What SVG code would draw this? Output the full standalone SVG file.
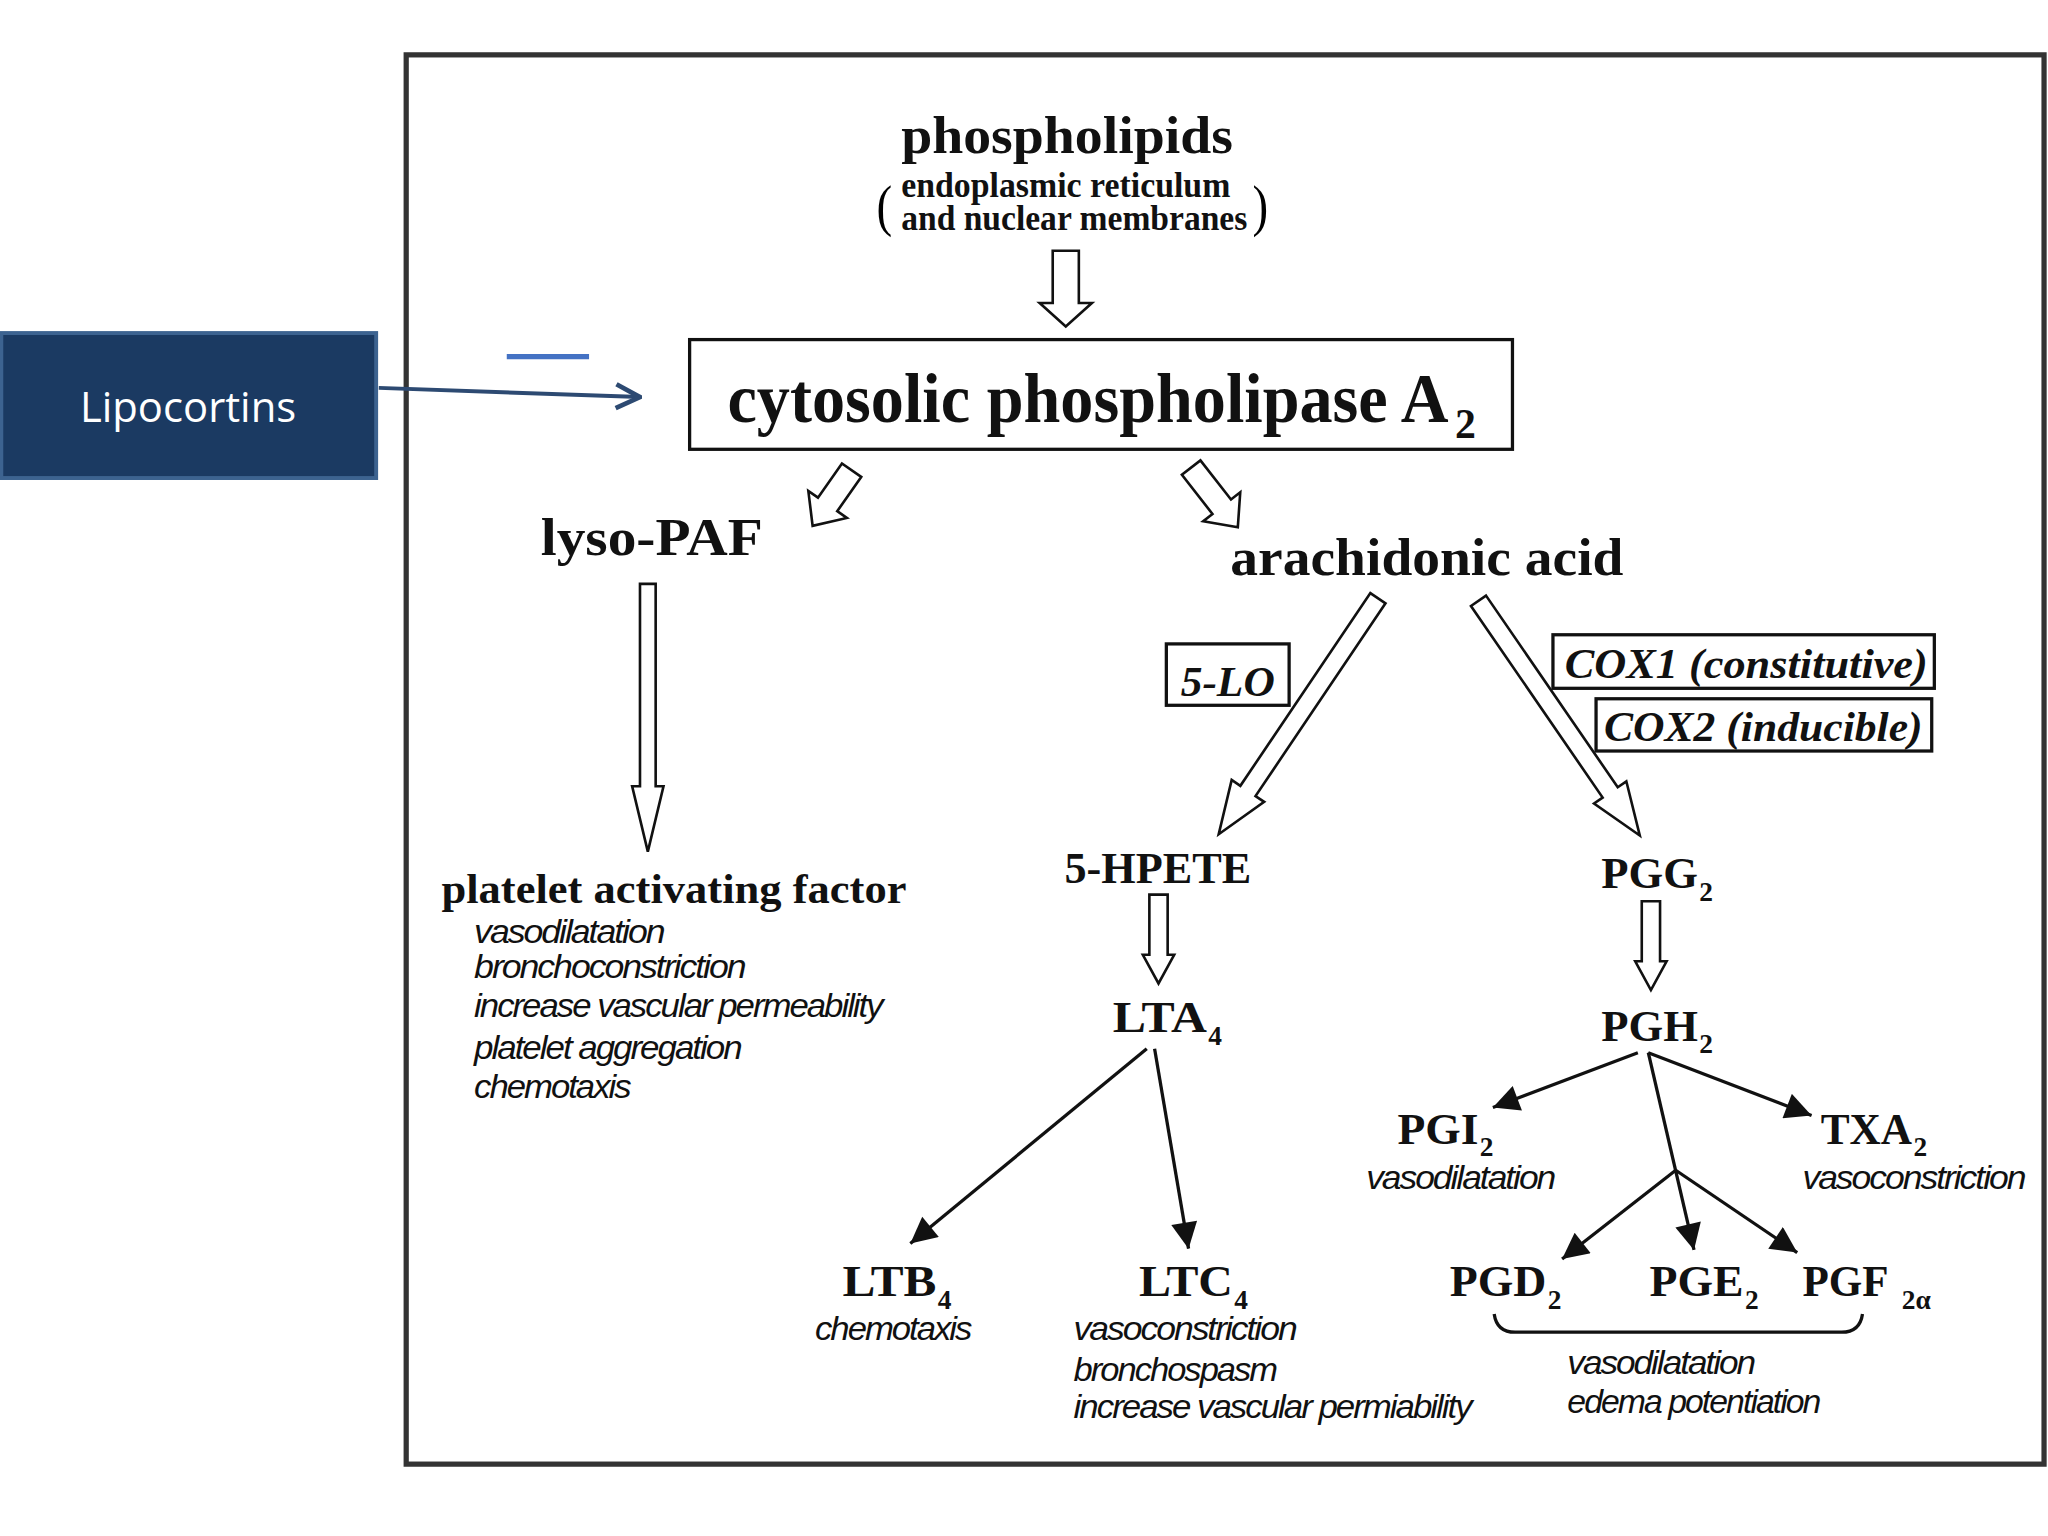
<svg xmlns="http://www.w3.org/2000/svg" width="2048" height="1536" viewBox="0 0 2048 1536">
<style>
.t{font-family:"Liberation Serif",serif;font-weight:bold;fill:#111}
.d{font-family:"Liberation Sans",sans-serif;font-style:italic;font-size:26px;fill:#111;letter-spacing:-1.5px}
.ho{fill:#fff;stroke:#111;stroke-width:2}
.ln{stroke:#111;stroke-width:2.5;fill:none}
.bx{fill:#fff;stroke:#111;stroke-width:2.5}
</style>
<defs>
<marker id="fh2" viewBox="0 0 10 10" refX="10" refY="5" markerWidth="22" markerHeight="20" orient="auto" markerUnits="userSpaceOnUse"><path d="M0,0 L10,5 L0,10 Z" fill="#111"/></marker>
<marker id="nv" viewBox="0 0 12 12" refX="11" refY="6" markerWidth="22" markerHeight="22" orient="auto" markerUnits="userSpaceOnUse"><path d="M1,1 L11,6 L1,11" fill="none" stroke="#2d4a72" stroke-width="2"/></marker>
</defs>
<rect width="2048" height="1536" fill="#fff"/>
<g transform="scale(1.3061)">
<rect x="311" y="42" width="1254" height="1079" fill="#fff" stroke="#333" stroke-width="4"/>
<g id="lipocortins">
<rect x="1" y="255" width="287" height="111" fill="#1b3a62" stroke="#3d6390" stroke-width="3"/>
<text x="144" y="323" text-anchor="middle" font-family="'Open Sans',sans-serif" font-size="32" fill="#fff">Lipocortins</text>
</g>
<g id="connectors">
<line x1="290" y1="297" x2="490" y2="304" stroke="#2d4a72" stroke-width="3" marker-end="url(#nv)"/>
<line x1="388" y1="273" x2="451" y2="273" stroke="#4472c4" stroke-width="4"/>
<g transform="translate(816,192) rotate(90)"><polygon class="ho" points="0,-10 40,-10 40,-20 58,0 40,20 40,10 0,10"/></g>
<g transform="translate(652,360) rotate(125)"><polygon class="ho" points="0,-9 32,-9 32,-18 52,0 32,18 32,9 0,9"/></g>
<g transform="translate(912,358) rotate(52)"><polygon class="ho" points="0,-9 38,-9 38,-18 58,0 38,18 38,9 0,9"/></g>
<g transform="translate(496,447) rotate(90)"><polygon class="ho" points="0,-6 155,-6 155,-12 205,0 155,12 155,6 0,6"/></g>
<g transform="translate(1055,458) rotate(124)"><polygon class="ho" points="0,-7 178,-7 178,-15 218,0 178,15 178,7 0,7"/></g>
<g transform="translate(1132,460) rotate(55.5)"><polygon class="ho" points="0,-7 178,-7 178,-15 218,0 178,15 178,7 0,7"/></g>
<g transform="translate(887,685) rotate(90)"><polygon class="ho" points="0,-7 46,-7 46,-12 68,0 46,12 46,7 0,7"/></g>
<g transform="translate(1264,690) rotate(90)"><polygon class="ho" points="0,-7 46,-7 46,-12 68,0 46,12 46,7 0,7"/></g>
<line class="ln" x1="878" y1="803" x2="697" y2="952" marker-end="url(#fh2)"/>
<line class="ln" x1="884" y1="803" x2="910" y2="956" marker-end="url(#fh2)"/>
<line class="ln" x1="1254" y1="806" x2="1143" y2="848" marker-end="url(#fh2)"/>
<line class="ln" x1="1262" y1="806" x2="1387" y2="854" marker-end="url(#fh2)"/>
<line class="ln" x1="1262" y1="806" x2="1297" y2="957" marker-end="url(#fh2)"/>
<line class="ln" x1="1283" y1="896" x2="1196" y2="964" marker-end="url(#fh2)"/>
<line class="ln" x1="1283" y1="896" x2="1376" y2="959" marker-end="url(#fh2)"/>
<path class="ln" d="M1144,1006 Q1146,1020 1160,1020 L1410,1020 Q1424,1020 1426,1006"/>
</g>
<g id="phospholipids">
<text class="t" x="690" y="117" font-size="40" textLength="254" lengthAdjust="spacingAndGlyphs">phospholipids</text>
<text class="t" x="690" y="151" font-size="27" textLength="252" lengthAdjust="spacingAndGlyphs">endoplasmic reticulum</text>
<text class="t" x="690" y="176" font-size="27" textLength="265" lengthAdjust="spacingAndGlyphs">and nuclear membranes</text>
<text x="671" y="172" font-family="'Liberation Serif',serif" font-size="44" font-weight="normal" textLength="12" lengthAdjust="spacingAndGlyphs">(</text>
<text x="959" y="172" font-family="'Liberation Serif',serif" font-size="44" font-weight="normal" textLength="12" lengthAdjust="spacingAndGlyphs">)</text>
</g>
<g id="cpla2">
<rect x="528" y="260" width="630" height="84" class="bx"/>
<text class="t" x="557" y="323" font-size="54" textLength="552" lengthAdjust="spacingAndGlyphs">cytosolic phospholipase A</text>
<text class="t" x="1114" y="335" font-size="32">2</text>
</g>
<g id="lysopaf"><text class="t" x="414" y="425" font-size="40" textLength="170" lengthAdjust="spacingAndGlyphs">lyso-PAF</text></g>
<g id="aa"><text class="t" x="942" y="440" font-size="40" textLength="301" lengthAdjust="spacingAndGlyphs">arachidonic acid</text></g>
<g id="lo5"><rect x="893" y="493" width="94" height="47" class="bx" stroke-width="2"/>
<text class="t" x="904" y="533" font-size="32" font-style="italic" textLength="72" lengthAdjust="spacingAndGlyphs">5-LO</text></g>
<g id="cox1"><rect x="1189" y="486" width="292" height="41" class="bx" stroke-width="2"/>
<text class="t" x="1198" y="519" font-size="32" font-style="italic" textLength="278" lengthAdjust="spacingAndGlyphs">COX1 (constitutive)</text></g>
<g id="cox2"><rect x="1222" y="535" width="257" height="40" class="bx" stroke-width="2"/>
<text class="t" x="1228" y="567" font-size="32" font-style="italic" textLength="244" lengthAdjust="spacingAndGlyphs">COX2 (inducible)</text></g>
<g id="paf">
<text class="t" x="338" y="691" font-size="32" textLength="356" lengthAdjust="spacingAndGlyphs">platelet activating factor</text>
<text class="d" x="363" y="722" textLength="145" lengthAdjust="spacingAndGlyphs">vasodilatation</text>
<text class="d" x="363" y="749" textLength="207" lengthAdjust="spacingAndGlyphs">bronchoconstriction</text>
<text class="d" x="363" y="779" textLength="312" lengthAdjust="spacingAndGlyphs">increase vascular permeability</text>
<text class="d" x="363" y="811" textLength="204" lengthAdjust="spacingAndGlyphs">platelet aggregation</text>
<text class="d" x="363" y="841" textLength="119" lengthAdjust="spacingAndGlyphs">chemotaxis</text>
</g>
<g id="hpete"><text class="t" x="815" y="676" font-size="34" textLength="143" lengthAdjust="spacingAndGlyphs">5-HPETE</text></g>
<g id="pgg2"><text class="t" x="1226" y="680" font-size="34" textLength="74" lengthAdjust="spacingAndGlyphs">PGG</text><text class="t" x="1301" y="690" font-size="21">2</text></g>
<g id="lta4"><text class="t" x="852" y="790" font-size="34" textLength="72" lengthAdjust="spacingAndGlyphs">LTA</text><text class="t" x="925" y="800" font-size="21">4</text></g>
<g id="pgh2"><text class="t" x="1226" y="797" font-size="34" textLength="74" lengthAdjust="spacingAndGlyphs">PGH</text><text class="t" x="1301" y="806" font-size="21">2</text></g>
<g id="pgi2"><text class="t" x="1070" y="876" font-size="34" textLength="62" lengthAdjust="spacingAndGlyphs">PGI</text><text class="t" x="1133" y="885" font-size="21">2</text>
<text class="d" x="1046" y="910" textLength="144" lengthAdjust="spacingAndGlyphs">vasodilatation</text></g>
<g id="txa2"><text class="t" x="1394" y="876" font-size="34" textLength="70" lengthAdjust="spacingAndGlyphs">TXA</text><text class="t" x="1465" y="885" font-size="21">2</text>
<text class="d" x="1380" y="910" textLength="170" lengthAdjust="spacingAndGlyphs">vasoconstriction</text></g>
<g id="ltb4"><text class="t" x="645" y="992" font-size="34" textLength="72" lengthAdjust="spacingAndGlyphs">LTB</text><text class="t" x="718" y="1002" font-size="21">4</text>
<text class="d" x="624" y="1026" textLength="119" lengthAdjust="spacingAndGlyphs">chemotaxis</text></g>
<g id="ltc4"><text class="t" x="872" y="992" font-size="34" textLength="72" lengthAdjust="spacingAndGlyphs">LTC</text><text class="t" x="945" y="1002" font-size="21">4</text>
<text class="d" x="822" y="1026" textLength="170" lengthAdjust="spacingAndGlyphs">vasoconstriction</text>
<text class="d" x="822" y="1057" textLength="155" lengthAdjust="spacingAndGlyphs">bronchospasm</text>
<text class="d" x="822" y="1086" textLength="304" lengthAdjust="spacingAndGlyphs">increase vascular permiability</text></g>
<g id="pgd2"><text class="t" x="1110" y="992" font-size="34" textLength="74" lengthAdjust="spacingAndGlyphs">PGD</text><text class="t" x="1185" y="1002" font-size="21">2</text></g>
<g id="pge2"><text class="t" x="1263" y="992" font-size="34" textLength="72" lengthAdjust="spacingAndGlyphs">PGE</text><text class="t" x="1336" y="1002" font-size="21">2</text></g>
<g id="pgf2a"><text class="t" x="1380" y="992" font-size="34" textLength="66" lengthAdjust="spacingAndGlyphs">PGF</text><text class="t" x="1456" y="1002" font-size="21">2α</text></g>
<g id="pgnote">
<text class="d" x="1200" y="1052" textLength="143" lengthAdjust="spacingAndGlyphs">vasodilatation</text>
<text class="d" x="1200" y="1082" textLength="193" lengthAdjust="spacingAndGlyphs">edema potentiation</text>
</g>
</g>
</svg>
